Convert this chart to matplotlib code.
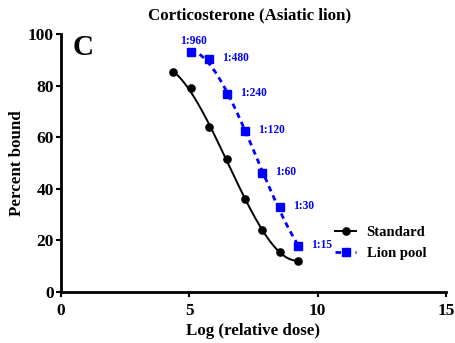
import numpy as np
import matplotlib.pyplot as plt

plt.rcParams['font.family'] = ['Liberation Serif', 'DejaVu Serif']
plt.rcParams['font.weight'] = 'bold'

# log(relative dose) and percent bound
std_x = [4.37, 5.05, 5.75, 6.46, 7.16, 7.84, 8.53, 9.22]
std_y = [85.2, 79.1, 64.0, 51.7, 36.0, 24.1, 15.7, 12.0]

lion_x = [5.05, 5.75, 6.46, 7.16, 7.84, 8.53, 9.22]
lion_y = [93.2, 90.5, 76.9, 62.5, 46.3, 33.1, 17.9]
lion_labels = ['1:960', '1:480', '1:240', '1:120', '1:60', '1:30', '1:15']

blue = '#0000ff'
dash = (0, (2.0, 1.6))

fig = plt.figure(figsize=(4.56, 3.43), dpi=100)
ax = fig.add_axes([0.1338, 0.1487, 0.8442, 0.7513])

# smooth fitted curves
xs = np.linspace(min(std_x), max(std_x), 200)
ax.plot(xs, np.polyval(np.polyfit(std_x, std_y, 3), xs), color='black', lw=1.4)
xl = np.linspace(min(lion_x), max(lion_x), 200)
ax.plot(xl, np.polyval(np.polyfit(lion_x, lion_y, 3), xl), color=blue, lw=2,
        ls=dash)

ax.plot(std_x, std_y, 'o', color='black', ms=5.2)
ax.plot(lion_x, lion_y, 's', color=blue, ms=5.6)

# legend handles with line + marker
h1, = ax.plot([], [], '-o', color='black', ms=5.2, lw=1.4)
h2, = ax.plot([], [], 's', ls=dash, color=blue, ms=5.6, lw=2)
ax.legend([h1, h2], ['Standard', 'Lion pool'], loc='upper left',
          bbox_to_anchor=(335 / 456, 1 - 226 / 343), bbox_transform=fig.transFigure,
          frameon=False, borderpad=0, borderaxespad=0, handlelength=1.45,
          handletextpad=0.72, prop={'size': 10.5, 'weight': 'bold'},
          labelspacing=0.52)

for i, (x, y, t) in enumerate(zip(lion_x, lion_y, lion_labels)):
    if i == 0:
        ax.annotate(t, (x, y), xytext=(2, 3.5), textcoords='offset points',
                    ha='center', va='bottom', color=blue, fontsize=8.3,
                    fontweight='bold')
    else:
        ax.annotate(t, (x, y), xytext=(9.5, 0.5), textcoords='offset points',
                    ha='left', va='center', color=blue, fontsize=8.3,
                    fontweight='bold')

ax.set_xlim(0, 15)
ax.set_ylim(0, 100)
ax.set_xticks([0, 5, 10, 15])
ax.set_yticks([0, 20, 40, 60, 80, 100])
for s in ['top', 'right']:
    ax.spines[s].set_visible(False)
for s in ['left', 'bottom']:
    ax.spines[s].set_linewidth(2)
ax.tick_params(width=1.5, length=3.5, labelsize=12.5)
ax.tick_params(axis='x', pad=4.5)
ax.tick_params(axis='y', pad=1.5)

ax.set_xlabel('Log (relative dose)', fontsize=12.2, fontweight='bold', labelpad=3)
ax.set_ylabel('Percent bound', fontsize=12.2, fontweight='bold', labelpad=2)
fig.text(249.5 / 456, 1 - 15 / 343, 'Corticosterone (Asiatic lion)', fontsize=12.2,
         fontweight='bold', ha='center', va='center')
ax.text(0.03, 1.0, 'C', transform=ax.transAxes, fontsize=21, fontweight='bold',
        va='top', ha='left')

fig.savefig('out.png', dpi=100)
